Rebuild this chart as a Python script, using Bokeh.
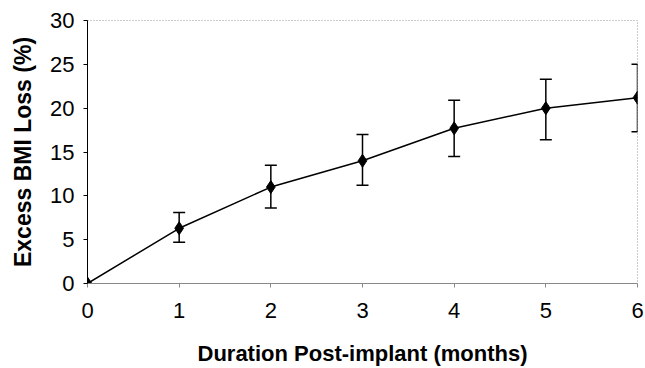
from bokeh.plotting import figure
from bokeh.models import ColumnDataSource, Whisker, TeeHead, FixedTicker, Range1d
from bokeh.embed import file_html
from bokeh.resources import INLINE

months = [0, 1, 2, 3, 4, 5, 6]
ebmil = [0.0, 6.3, 11.0, 14.0, 17.7, 20.0, 21.2]
err_months = [1, 2, 3, 4, 5, 6]
err_upper = [8.1, 13.5, 17.0, 20.9, 23.3, 25.0]
err_lower = [4.7, 8.6, 11.2, 14.5, 16.4, 17.3]
x_ticks = [0, 1, 2, 3, 4, 5, 6]
y_ticks = [0, 5, 10, 15, 20, 25, 30]

FONT = "Liberation Sans"

p = figure(width=645, height=368, output_backend="svg", toolbar_location=None,
           x_range=Range1d(0, 6), y_range=Range1d(0, 30),
           min_border_left=87, min_border_right=8, min_border_top=20, min_border_bottom=84)
p.background_fill_color = "white"
p.border_fill_color = "white"
p.outline_line_color = "#999999"
p.outline_line_dash = "1 2"
p.outline_line_width = 1
p.grid.visible = False

src = ColumnDataSource(dict(x=months, y=ebmil))
esrc = ColumnDataSource(dict(x=err_months, upper=err_upper, lower=err_lower))

w = Whisker(source=esrc, base="x", upper="upper", lower="lower",
            line_color="black", line_width=1.5,
            upper_head=TeeHead(size=12, line_color="black", line_width=1.5),
            lower_head=TeeHead(size=12, line_color="black", line_width=1.5))
p.add_layout(w)

p.line("x", "y", source=src, line_color="black", line_width=1.5)
p.scatter("x", "y", source=src, marker="diamond", size=13, fill_color="black", line_color="black")

p.xaxis.ticker = FixedTicker(ticks=x_ticks)
p.yaxis.ticker = FixedTicker(ticks=y_ticks)
p.xaxis.minor_tick_line_color = None
p.yaxis.minor_tick_line_color = None

p.xaxis.axis_line_color = "#888888"
p.xaxis.major_tick_line_color = "#888888"
p.xaxis.major_tick_out = 4
p.xaxis.major_tick_in = 0
p.yaxis.axis_line_color = "black"
p.yaxis.major_tick_line_color = "black"
p.yaxis.major_tick_out = 4
p.yaxis.major_tick_in = 0

for ax in (p.xaxis, p.yaxis):
    ax.major_label_text_font = FONT
    ax.major_label_text_font_size = "22px"
    ax.major_label_text_color = "black"
    ax.axis_label_text_font = FONT
    ax.axis_label_text_font_style = "bold"
    ax.axis_label_text_color = "black"

p.xaxis.axis_label_text_font_size = "22px"
p.yaxis.axis_label_text_font_size = "23px"
p.xaxis.major_label_standoff = 15
p.yaxis.major_label_standoff = 9
p.xaxis.axis_label = "Duration Post-implant (months)"
p.yaxis.axis_label = "Excess BMI Loss (%)"
p.xaxis.axis_label_standoff = 20
p.yaxis.axis_label_standoff = 11

open("out.html", "w").write(file_html(p, INLINE))
